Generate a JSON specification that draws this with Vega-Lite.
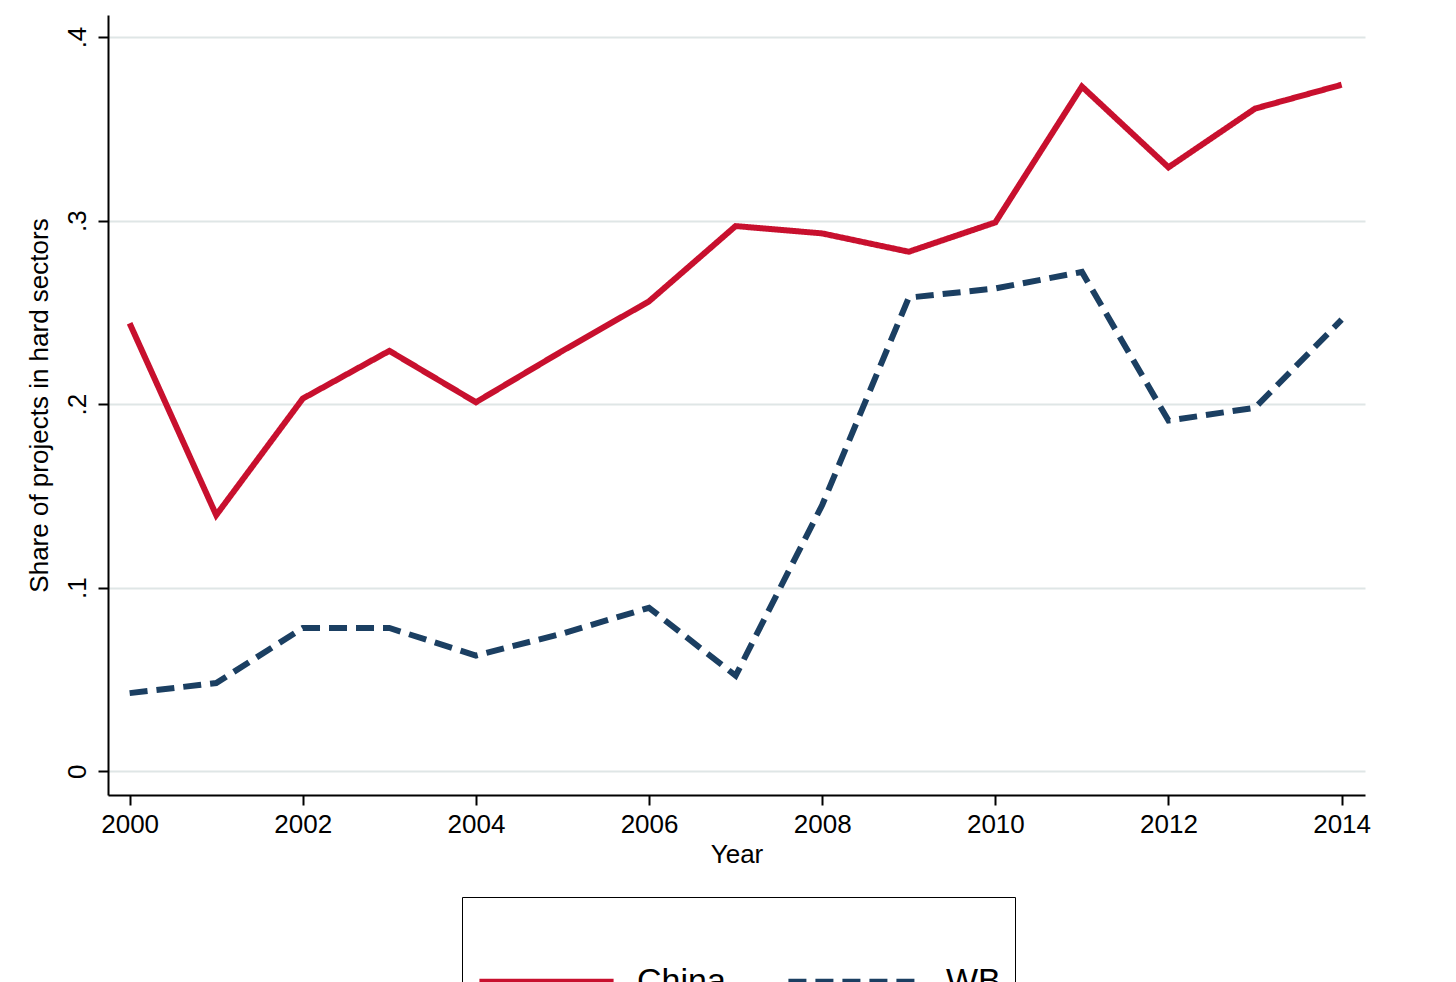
{
  "$schema": "https://vega.github.io/schema/vega-lite/v6.json",
  "width": 1257,
  "height": 780,
  "autosize": "none",
  "padding": {"left": 108, "top": 15, "right": 91, "bottom": 187},
  "background": "white",
  "data": {
    "values": [
      {"year": 2000, "series": "China", "share": 0.244},
      {"year": 2001, "series": "China", "share": 0.1395},
      {"year": 2002, "series": "China", "share": 0.203},
      {"year": 2003, "series": "China", "share": 0.229},
      {"year": 2004, "series": "China", "share": 0.201},
      {"year": 2005, "series": "China", "share": 0.229},
      {"year": 2006, "series": "China", "share": 0.256},
      {"year": 2007, "series": "China", "share": 0.297},
      {"year": 2008, "series": "China", "share": 0.293},
      {"year": 2009, "series": "China", "share": 0.283},
      {"year": 2010, "series": "China", "share": 0.299},
      {"year": 2011, "series": "China", "share": 0.373},
      {"year": 2012, "series": "China", "share": 0.329},
      {"year": 2013, "series": "China", "share": 0.361},
      {"year": 2014, "series": "China", "share": 0.374},
      {"year": 2000, "series": "WB", "share": 0.0425},
      {"year": 2001, "series": "WB", "share": 0.048},
      {"year": 2002, "series": "WB", "share": 0.078},
      {"year": 2003, "series": "WB", "share": 0.078},
      {"year": 2004, "series": "WB", "share": 0.063},
      {"year": 2005, "series": "WB", "share": 0.075},
      {"year": 2006, "series": "WB", "share": 0.089},
      {"year": 2007, "series": "WB", "share": 0.052},
      {"year": 2008, "series": "WB", "share": 0.145},
      {"year": 2009, "series": "WB", "share": 0.258},
      {"year": 2010, "series": "WB", "share": 0.263},
      {"year": 2011, "series": "WB", "share": 0.272},
      {"year": 2012, "series": "WB", "share": 0.191},
      {"year": 2013, "series": "WB", "share": 0.198},
      {"year": 2014, "series": "WB", "share": 0.246}
    ]
  },
  "mark": {"type": "line", "strokeWidth": 6},
  "encoding": {
    "x": {
      "field": "year",
      "type": "quantitative",
      "title": "Year",
      "scale": {"domain": [1999.75, 2014.27], "nice": false, "zero": false},
      "axis": {"values": [2000, 2002, 2004, 2006, 2008, 2010, 2012, 2014], "format": "d", "grid": false, "labelFontSize": 26, "titleFontSize": 26, "titleFontWeight": "normal", "titlePadding": 4, "tickSize": 10, "labelPadding": 6}
    },
    "y": {
      "field": "share",
      "type": "quantitative",
      "title": "Share of projects in hard sectors",
      "scale": {"domain": [-0.013, 0.412], "nice": false, "zero": false},
      "axis": {"values": [0, 0.1, 0.2, 0.3, 0.4], "labelExpr": "datum.value == 0 ? '0' : replace(format(datum.value, '.1f'), '0.', '.')", "labelAngle": -90, "labelAlign": "center", "labelBaseline": "bottom", "labelFontSize": 26, "titleFontSize": 26, "titleFontWeight": "normal", "tickSize": 10, "labelPadding": 8, "titlePadding": 12, "grid": true, "gridColor": "#dfe6e6", "gridWidth": 2}
    },
    "color": {
      "field": "series",
      "type": "nominal",
      "scale": {"domain": ["China", "WB"], "range": ["#c8102e", "#1b3f62"]},
      "legend": {"orient": "none", "legendX": 354, "legendY": 882, "direction": "horizontal", "title": null, "symbolType": "stroke", "symbolSize": 18000, "symbolStrokeWidth": 6, "labelFontSize": 34, "strokeColor": "black", "padding": 14, "columnPadding": 50, "labelOffset": 20}
    },
    "strokeDash": {
      "field": "series",
      "type": "nominal",
      "scale": {"domain": ["China", "WB"], "range": [[1, 0], [18, 9]]},
      "legend": null
    }
  },
  "config": {
    "view": {"stroke": null},
    "font": "Liberation Sans",
    "axis": {"domainColor": "black", "tickColor": "black", "domainWidth": 2, "tickWidth": 2, "labelColor": "black", "titleColor": "black"}
  }
}
